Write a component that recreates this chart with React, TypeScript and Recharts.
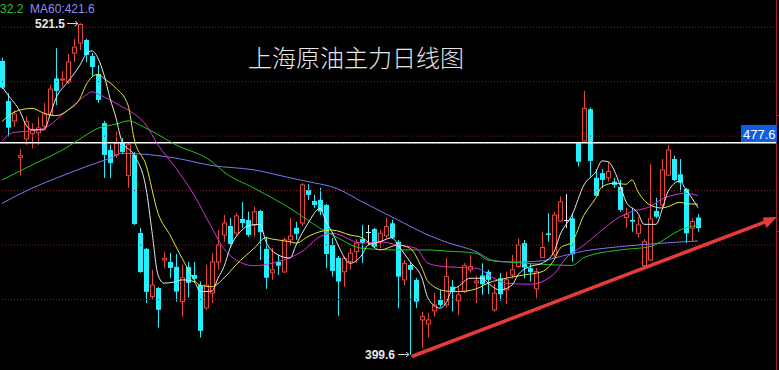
import { ComposedChart, Bar, Line, XAxis, YAxis, ReferenceLine } from 'recharts';

// daily candles, oldest first
const OPEN = [
  507.6, 492.9, 485.6, 472.2, 479.0, 480.9, 481.2, 483.7, 487.8, 501.2,
  500.6, 499.9, 510.5, 514.2, 515.3, 509.4, 502.8, 484.8, 474.9, 473.1,
  477.5, 465.5, 473.1, 444.4, 438.6, 421.1, 424.2, 434.5, 433.8, 432.0,
  419.2, 432.0, 429.0, 425.3, 416.9, 422.4, 433.8, 443.7, 447.0, 444.4,
  449.6, 449.2, 447.4, 452.5, 438.6, 429.8, 433.8, 430.1, 441.9, 446.3,
  448.1, 460.2, 456.2, 456.6, 454.7, 440.0, 435.3, 430.2, 433.9, 437.6,
  442.2, 444.9, 445.9, 441.2, 443.4, 448.0, 441.2, 427.2, 432.7, 427.2,
  412.5, 411.0, 415.8, 419.8, 418.0, 424.7, 419.5, 422.9, 430.9, 426.2,
  428.8, 430.2, 416.2, 427.8, 423.5, 429.0, 432.1, 440.7, 431.5, 423.9,
  435.4, 444.3, 436.4, 448.8, 449.2, 449.8, 477.4, 478.2, 489.9, 464.7,
  466.4, 464.7, 463.3, 461.4, 450.1, 449.2, 444.3, 432.4, 434.5, 452.5,
  454.7, 465.7, 471.6, 466.0, 460.6, 446.2, 450.1,
];
const CLOSE = [
  497.8, 483.1, 488.1, 472.8, 485.3, 482.5, 483.0, 488.1, 497.3, 496.6,
  501.0, 507.2, 512.7, 521.0, 509.8, 505.4, 493.3, 473.1, 470.1, 477.4,
  474.2, 476.8, 447.7, 430.1, 422.8, 425.3, 416.2, 435.1, 431.6, 422.9,
  428.0, 426.1, 427.6, 408.5, 425.3, 433.8, 440.0, 448.1, 440.4, 450.7,
  448.1, 443.7, 452.2, 444.7, 428.0, 430.9, 432.4, 441.9, 443.3, 444.1,
  462.1, 458.4, 454.7, 452.3, 436.7, 430.5, 426.6, 435.1, 437.0, 440.7,
  440.8, 444.9, 439.4, 444.3, 446.8, 442.7, 428.4, 433.3, 430.9, 419.2,
  413.7, 412.5, 418.0, 418.0, 428.4, 422.7, 421.7, 432.4, 432.1, 426.8,
  425.6, 427.2, 422.3, 421.9, 427.2, 430.9, 440.0, 431.7, 430.0, 430.2,
  439.1, 443.7, 451.0, 455.9, 449.2, 436.6, 470.6, 490.2, 470.9, 458.1,
  463.9, 467.0, 462.1, 452.9, 451.3, 448.6, 447.4, 441.2, 449.6, 450.4,
  467.6, 474.9, 463.9, 462.9, 444.3, 448.6, 446.2,
];
const HIGH = [
  508.8, 495.7, 489.4, 475.2, 487.2, 484.7, 487.0, 492.2, 498.8, 512.3,
  503.9, 510.2, 515.7, 521.5, 515.7, 510.5, 506.1, 485.6, 476.8, 481.6,
  479.3, 477.5, 474.2, 446.3, 438.9, 430.9, 424.6, 437.5, 437.1, 436.7,
  432.7, 433.8, 433.8, 426.6, 432.7, 437.1, 445.5, 451.0, 450.0, 451.8,
  455.8, 452.3, 454.1, 452.9, 443.1, 438.9, 436.4, 442.7, 450.0, 448.5,
  462.8, 462.4, 458.4, 461.0, 455.1, 442.6, 436.0, 435.7, 438.8, 442.2,
  447.4, 447.4, 446.3, 445.5, 450.1, 449.2, 441.9, 434.5, 433.8, 427.9,
  415.5, 415.1, 422.4, 423.5, 435.2, 427.2, 424.7, 433.4, 436.4, 428.8,
  433.3, 430.9, 425.7, 429.7, 430.2, 436.4, 442.5, 441.9, 433.4, 431.6,
  444.9, 451.7, 452.2, 457.8, 458.7, 451.7, 477.9, 496.6, 490.5, 467.9,
  467.9, 470.6, 464.6, 463.9, 453.7, 453.7, 450.4, 442.2, 469.7, 457.4,
  471.6, 476.8, 472.8, 471.6, 461.0, 449.8, 451.3,
];
const LOW = [
  497.3, 479.8, 483.5, 465.5, 476.8, 475.5, 476.8, 482.3, 487.4, 491.4,
  498.4, 499.2, 507.2, 511.6, 507.2, 502.1, 492.2, 464.6, 464.6, 472.0,
  473.5, 461.0, 447.4, 429.8, 418.7, 419.8, 409.7, 431.6, 427.9, 419.2,
  413.7, 420.7, 426.1, 406.0, 416.2, 418.7, 430.9, 441.2, 438.9, 443.7,
  446.3, 443.0, 443.1, 434.5, 423.9, 427.2, 429.0, 429.8, 440.0, 441.9,
  447.0, 456.6, 453.6, 451.0, 431.6, 428.4, 414.0, 424.7, 430.9, 433.4,
  433.4, 440.0, 438.9, 438.9, 442.6, 442.2, 416.8, 425.3, 399.6, 416.9,
  402.2, 406.0, 413.7, 417.3, 416.9, 415.6, 414.3, 422.4, 429.8, 418.7,
  421.7, 422.0, 415.4, 419.5, 418.4, 427.8, 431.6, 427.8, 426.6, 420.5,
  435.3, 441.2, 435.4, 448.5, 446.2, 433.9, 468.8, 477.9, 465.1, 458.0,
  460.9, 463.3, 461.0, 452.2, 446.2, 444.9, 442.7, 431.5, 434.2, 449.8,
  454.0, 465.4, 463.5, 459.6, 440.7, 441.5, 444.9,
];

// moving averages: [candle index, value]
const MA5 = [
  [0, 498.2], [1, 495.1], [3, 489.0], [4, 484.1], [5, 482.3], [7, 482.3], [8, 487.8],
  [9, 493.9], [11, 500.0], [13, 506.1], [14, 510.1], [15, 511.3], [16, 508.6], [17, 502.5],
  [18, 493.9], [19, 486.7], [20, 478.0], [22, 473.1], [24, 460.9], [25, 444.9], [26, 429.0],
  [27, 426.0], [29, 426.6], [30, 427.2], [32, 426.6], [33, 422.9], [35, 423.1], [36, 427.8],
  [37, 432.1], [38, 438.8], [40, 445.5], [41, 447.1], [43, 447.6], [44, 441.2], [46, 436.4],
  [48, 435.2], [49, 440.0], [51, 448.0], [53, 453.5], [54, 448.6], [55, 444.8], [56, 440.0],
  [58, 433.3], [60, 436.4], [61, 440.0], [63, 441.2], [65, 442.7], [66, 440.0], [68, 433.9],
  [70, 427.8], [71, 420.5], [73, 416.8], [74, 418.7], [75, 423.5], [76, 424.7], [78, 427.8],
  [80, 427.8], [81, 426.0], [83, 423.5], [85, 425.3], [86, 429.0], [88, 432.1], [90, 433.3],
  [92, 437.5], [93, 443.7], [95, 451.0], [97, 462.1], [99, 467.0], [100, 470.9], [101, 470.6],
  [103, 462.1], [104, 455.9], [106, 451.7], [107, 447.6], [109, 447.6], [110, 452.9],
  [111, 459.6], [113, 463.5], [114, 460.2], [115, 457.2], [116, 453.7],
];
const MA10 = [
  [0, 485.3], [2, 488.8], [5, 490.2], [7, 488.4], [9, 487.5], [11, 489.6], [13, 493.9],
  [14, 498.8], [16, 502.7], [17, 501.2], [19, 497.6], [21, 491.4], [22, 479.2], [24, 469.4],
  [26, 451.7], [28, 443.7], [30, 435.2], [33, 425.3], [35, 424.7], [37, 427.9], [39, 432.7],
  [42, 438.8], [44, 442.7], [45, 442.2], [48, 441.2], [49, 440.7], [51, 443.1], [53, 444.9],
  [55, 445.5], [58, 443.7], [60, 442.7], [63, 438.2], [66, 440.0], [68, 438.8], [70, 431.5],
  [71, 426.6], [74, 423.1], [76, 422.9], [79, 423.9], [81, 426.0], [84, 427.8], [87, 429.0],
  [90, 430.2], [92, 434.5], [93, 438.8], [95, 441.2], [97, 451.0], [99, 457.4], [100, 461.4],
  [102, 462.7], [104, 462.3], [105, 463.9], [106, 459.6], [108, 454.7], [110, 453.6],
  [111, 454.1], [113, 455.7], [114, 455.2], [116, 455.0],
];
const MA20 = [
  [0, 478.2], [2, 481.4], [5, 481.9], [8, 484.1], [10, 487.8], [12, 491.4], [14, 495.1],
  [15, 496.3], [16, 495.4], [18, 493.3], [20, 490.8], [21, 489.6], [24, 484.1], [26, 476.8],
  [29, 468.2], [32, 458.4], [35, 446.2], [37, 438.6], [39, 434.5], [42, 432.4], [45, 433.3],
  [48, 435.4], [50, 437.6], [53, 443.1], [55, 444.3], [60, 440.7], [63, 441.2], [66, 440.0],
  [69, 438.8], [71, 433.3], [74, 432.0], [79, 431.5], [82, 427.8], [84, 426.0], [88, 425.6],
  [92, 429.4], [94, 435.2], [97, 440.0], [100, 445.5], [103, 450.4], [105, 452.3],
  [108, 454.1], [110, 456.9], [112, 458.4], [114, 459.0], [116, 458.1],
];
const MA30 = [
  [0, 463.9], [5, 469.4], [11, 476.1], [14, 480.4], [16, 482.9], [19, 484.4], [21, 485.6],
  [24, 482.9], [29, 476.8], [35, 470.6], [37, 466.8], [42, 460.9], [48, 453.5], [53, 446.2],
  [56, 442.6], [60, 438.8], [66, 438.2], [71, 438.2], [74, 437.8], [79, 437.0], [81, 434.5],
  [85, 433.7], [92, 432.7], [95, 432.5], [97, 435.4], [103, 438.2], [108, 439.4],
  [110, 441.5], [112, 444.3], [114, 446.4], [116, 447.1],
];
const MA60 = [
  [0, 455.3], [5, 460.9], [10, 465.4], [14, 468.8], [18, 471.9], [20, 473.7], [24, 473.3],
  [29, 471.9], [35, 469.2], [42, 467.6], [48, 464.7], [51, 463.3], [56, 460.6], [60, 455.9],
  [66, 449.2], [71, 443.7], [74, 441.1], [79, 437.6], [82, 434.2], [85, 433.7], [90, 434.2],
  [92, 435.2], [97, 437.8], [103, 439.4], [110, 440.7], [116, 441.5],
];

const GRID_LEVELS = [520, 500, 480, 460, 440, 420];
const MARKED_PRICE = 477.6;
const HIGH_LABEL = '521.5';
const LOW_LABEL = '399.6';
const TITLE = '上海原油主力日线图';

const SLOTS = 130; // candles plus empty room on the right
const RED = '#e8463c';
const CYAN = '#22f0ff';

const rows: any[] = Array.from({ length: SLOTS }, (_, i) => ({
  i,
  open: OPEN[i],
  close: CLOSE[i],
  high: HIGH[i],
  low: LOW[i],
  range: i < OPEN.length ? [LOW[i], HIGH[i]] : null,
}));
const addMa = (key: string, pts: number[][]) => pts.forEach(([i, v]) => { rows[i][key] = v; });
addMa('ma5', MA5);
addMa('ma10', MA10);
addMa('ma20', MA20);
addMa('ma30', MA30);
addMa('ma60', MA60);

function Candle(props: any) {
  const { x, y, width, height, payload } = props;
  if (!payload || payload.open == null || height == null) return null;
  const { open, close, high, low } = payload;
  const top = Math.min(y, y + height);
  const h = Math.abs(height);
  const span = high - low;
  const py = (v: number) => (span > 0 ? top + ((high - v) / span) * h : top);
  const cx = Math.floor(x + width / 2) + 0.5;
  const left = cx - 2.5;
  const bTop = py(Math.max(open, close));
  const bBot = py(Math.min(open, close));
  const bh = Math.max(1, bBot - bTop);

  if (open === close) {
    return (
      <g stroke="#e6e6e6" strokeWidth={1}>
        <line x1={cx} x2={cx} y1={py(high)} y2={py(low)} />
        <line x1={left} x2={left + 5} y1={Math.round(bTop) + 0.5} y2={Math.round(bTop) + 0.5} />
      </g>
    );
  }
  if (close > open) {
    return (
      <g stroke={RED} strokeWidth={1} fill="none">
        <line x1={cx} x2={cx} y1={py(high)} y2={bTop} />
        <line x1={cx} x2={cx} y1={bTop + bh} y2={py(low)} />
        <rect x={left + 0.5} y={bTop} width={4} height={bh} />
      </g>
    );
  }
  return (
    <g>
      <line x1={cx} x2={cx} y1={py(high)} y2={py(low)} stroke={CYAN} strokeWidth={1} />
      <rect x={left} y={bTop} width={5} height={bh} fill={CYAN} />
    </g>
  );
}

const maLines = [
  { key: 'ma60', color: '#7878f0' },
  { key: 'ma30', color: '#22c322' },
  { key: 'ma20', color: '#d72ed7' },
  { key: 'ma10', color: '#e2e23a' },
  { key: 'ma5', color: '#e8e8e8' },
];

export default function App() {
  return (
    <div style={{ position: 'relative', width: 779, height: 370, background: '#000', overflow: 'hidden' }}>
      <style>{'body{margin:0;background:#000}'}</style>
      <div style={{ position: 'absolute', left: -1, top: 0 }}>
        <ComposedChart width={780} height={370} data={rows} margin={{ top: 0, right: 0, bottom: 0, left: 0 }}>
          <XAxis dataKey="i" hide />
          <YAxis hide domain={[394.1, 530]} allowDataOverflow />
          {GRID_LEVELS.map((v) => (
            <ReferenceLine key={v} y={v} stroke="#8a2020" strokeDasharray="1 2" />
          ))}
          <ReferenceLine y={MARKED_PRICE} stroke="#ffffff" strokeWidth={1.5} />
          <Bar dataKey="range" barSize={5} shape={Candle} isAnimationActive={false} />
          {maLines.map((m) => (
            <Line
              key={m.key}
              dataKey={m.key}
              stroke={m.color}
              strokeWidth={1}
              dot={false}
              activeDot={false}
              connectNulls
              type="monotone"
              isAnimationActive={false}
            />
          ))}
        </ComposedChart>
      </div>

      <svg width={779} height={370} style={{ position: 'absolute', left: 0, top: 0, pointerEvents: 'none' }}>
        <rect x={777} y={0} width={2} height={370} fill="#000" />
        <line x1={776.5} x2={776.5} y1={0} y2={370} stroke="#a02424" />
        <line x1={776} x2={779} y1={115.5} y2={115.5} stroke="#a02424" />
        <line x1={776} x2={779} y1={231.5} y2={231.5} stroke="#a02424" />

        <g fontFamily="'Liberation Sans', Arial, sans-serif" fontSize={12}>
          <text x={0} y={13} fill="#2bc42b">32.2</text>
          <text x={30} y={13} fill="#8c8cff">MA60:421.6</text>
        </g>

        <text x={248} y={67} fill="#e6e6e6" fontSize={24} fontWeight={300} fontFamily="'Noto Sans CJK SC', sans-serif">
          {TITLE}
        </text>

        <g fontFamily="'Liberation Sans', Arial, sans-serif" fontSize={12} fontWeight="bold" fill="#e6e6e6">
          <text x={35} y={27.5}>{HIGH_LABEL}</text>
          <text x={365} y={358.5}>{LOW_LABEL}</text>
        </g>
        <g stroke="#d8d8d8" strokeWidth={1} fill="none">
          <path d="M67 23.5 H78 M75 21 L78 23.5 L75 26" />
          <path d="M398 354.5 H409 M406 352 L409 354.5 L406 357" />
        </g>

        <rect x={741} y={125} width={36} height={17} fill="#0f5ee0" />
        <text x={743} y={138.5} fill="#ffffff" fontSize={13} fontFamily="'Liberation Sans', Arial, sans-serif">
          477.6
        </text>

        <line x1={413} y1={356} x2={766} y2={221.5} stroke="#e83a3a" strokeWidth={3.5} strokeLinecap="round" />
        <polygon points="777,217 762.5,217.5 766.5,228" fill="#e83a3a" />
      </svg>
    </div>
  );
}
